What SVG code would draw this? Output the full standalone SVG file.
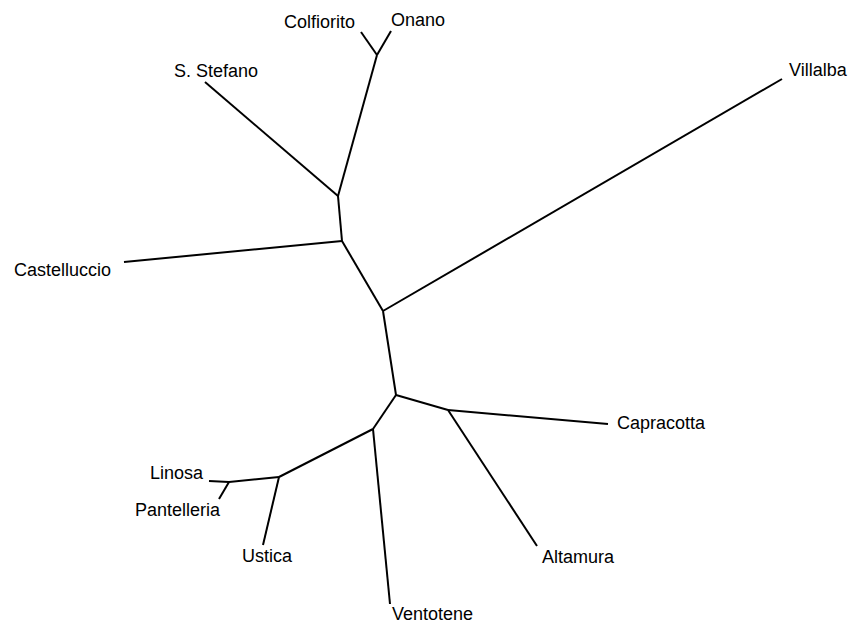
<svg xmlns="http://www.w3.org/2000/svg" width="853" height="623" viewBox="0 0 853 623">
<style>
.e{stroke:#000;stroke-width:2;fill:none;stroke-linecap:butt}
text{font-family:"Liberation Sans",Arial,sans-serif;font-size:18px;fill:#000}
</style>
<rect width="853" height="623" fill="#fff"/>
<g id="connectors">
<line class="e" x1="361" y1="32" x2="377" y2="55"/>
<line class="e" x1="391" y1="31" x2="377" y2="55"/>
<line class="e" x1="377" y1="55" x2="338" y2="196"/>
<line class="e" x1="205" y1="82" x2="338" y2="196"/>
<line class="e" x1="338" y1="196" x2="342" y2="241"/>
<line class="e" x1="124" y1="262" x2="342" y2="241"/>
<line class="e" x1="342" y1="241" x2="383" y2="311"/>
<line class="e" x1="383" y1="311" x2="782" y2="79"/>
<line class="e" x1="383" y1="311" x2="396" y2="395"/>
<line class="e" x1="396" y1="395" x2="448" y2="410"/>
<line class="e" x1="448" y1="410" x2="608" y2="424"/>
<line class="e" x1="448" y1="410" x2="537" y2="546"/>
<line class="e" x1="396" y1="395" x2="373" y2="429"/>
<line class="e" x1="373" y1="429" x2="390" y2="604"/>
<line class="e" x1="373" y1="429" x2="279" y2="477"/>
<line class="e" x1="279" y1="477" x2="263" y2="545"/>
<line class="e" x1="279" y1="477" x2="229" y2="482"/>
<line class="e" x1="229" y1="482" x2="209" y2="481"/>
<line class="e" x1="229" y1="482" x2="219" y2="499"/>
</g>
<g id="colfiorito"><text x="355" y="28" text-anchor="end">Colfiorito</text></g>
<g id="onano"><text x="391" y="26">Onano</text></g>
<g id="s-stefano"><text x="174" y="77">S. Stefano</text></g>
<g id="villalba"><text x="789" y="76">Villalba</text></g>
<g id="castelluccio"><text x="14" y="276">Castelluccio</text></g>
<g id="capracotta"><text x="617" y="429">Capracotta</text></g>
<g id="altamura"><text x="542" y="563">Altamura</text></g>
<g id="ventotene"><text x="392" y="620">Ventotene</text></g>
<g id="ustica"><text x="242" y="562">Ustica</text></g>
<g id="linosa"><text x="150" y="479">Linosa</text></g>
<g id="pantelleria"><text x="135" y="516">Pantelleria</text></g>
</svg>
